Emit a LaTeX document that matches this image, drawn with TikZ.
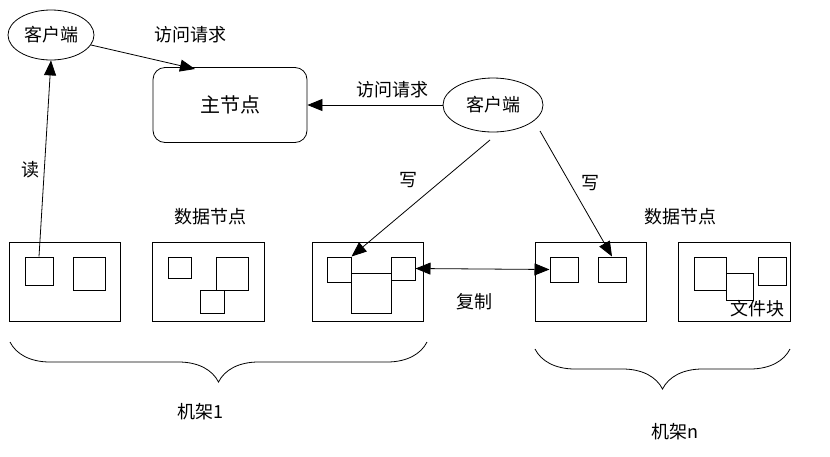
\documentclass[tikz,border=0pt]{standalone}
\usepackage{fontspec}
\setmainfont{Liberation Serif}
\newfontfamily\cjk{Noto Sans CJK SC}
\usetikzlibrary{arrows.meta,decorations.pathreplacing,shapes.geometric}
\begin{document}
\begin{tikzpicture}[x=1pt,y=-1pt,
  box/.style={draw,line width=1pt},
  sq/.style={draw,line width=1pt},
  tip/.tip={Triangle[length=15pt,width=12pt]},
  arr/.style={-tip,line width=0.8pt},
  lbl/.style={font=\cjk\fontsize{18}{20}\selectfont},
  brc/.style={decorate,decoration={brace,amplitude=40pt,mirror,aspect=0.5},line width=0.8pt}]
\useasboundingbox (0,0) rectangle (830,456);
% clients & master
\node[draw,line width=0.8pt,ellipse,minimum width=86pt,minimum height=50pt,lbl] (c1) at (51,35) {客户端};
\node[draw,line width=0.8pt,ellipse,minimum width=100pt,minimum height=54pt,lbl] (c2) at (493,105) {客户端};
\node[draw,line width=0.8pt,rounded corners=12pt,minimum width=154pt,minimum height=75pt,font=\cjk\fontsize{20}{22}\selectfont] (m) at (230,105) {主节点};
% racks
\draw[box] (9,242) rectangle (120,321);
\draw[box] (152,242) rectangle (264,321);
\draw[box] (312,242) rectangle (423,321);
\draw[box] (535,242) rectangle (646,321);
\draw[box] (678,242) rectangle (790,321);
% blocks
\node[sq,minimum width=28pt,minimum height=28pt,inner sep=0] (b1) at (39,271) {};
\draw[sq] (73,257) rectangle (105,290);
\draw[sq] (168,257) rectangle (191,278);
\draw[sq] (216,257) rectangle (248,290);
\draw[sq] (200,290) rectangle (224,313);
\node[sq,minimum width=24pt,minimum height=25pt,inner sep=0] (b3a) at (339,269.5) {};
\draw[sq] (351,273) rectangle (391,313);
\node[sq,minimum width=24pt,minimum height=23pt,inner sep=0] (b3b) at (403,268.5) {};
\node[sq,minimum width=28pt,minimum height=25pt,inner sep=0] (b4a) at (564,269.5) {};
\node[sq,minimum width=28pt,minimum height=25pt,inner sep=0] (b4b) at (612,269.5) {};
\draw[sq] (694,257) rectangle (726,290);
\draw[sq,fill=white] (726,273) rectangle (753,300);
\draw[sq] (758,257) rectangle (786,285);
\node[lbl] (wj) at (757,309) {文件块};
% arrows
\coordinate (c1o) at (91,45);
\coordinate (mt) at (195,69);
\coordinate (w1) at (490,140);
\coordinate (w2) at (540,131);
\draw[arr] (c1o) -- (mt);
\draw[arr] (c2.west) -- (m.east);
\draw[arr] (b1.north) -- (c1.south);
\draw[arr] (w1) -- (b3a.north east);
\draw[arr] (w2) -- (b4b.north);
\draw[tip-tip,line width=0.8pt] (b3b.east) -- (b4a.west);
% labels
\node[lbl] (l1) at (190,35) {访问请求};
\node[lbl] (l2) at (392,90) {访问请求};
\node[lbl] (l3) at (30,170) {读};
\node[lbl] (l4) at (408,180) {写};
\node[lbl] (l5) at (590,183) {写};
\node[lbl] (l6) at (210,217) {数据节点};
\node[lbl] (l7) at (680,217) {数据节点};
\node[lbl] (l8) at (474,302) {复制};
% braces
\draw[brc] (10,342) -- (427,342);
\draw[brc] (535,349) -- (790,349);
\node[lbl] (r1) at (200,412) {机架1};
\node[lbl] (r2) at (675,432) {机架n};
\end{tikzpicture}
\end{document}
